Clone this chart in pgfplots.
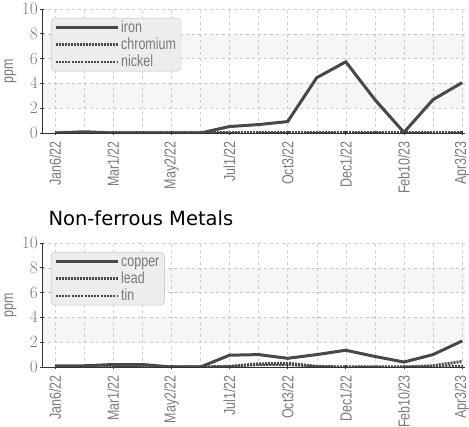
\documentclass[border=0pt]{standalone}
\usepackage{fontspec}
\setmainfont{Liberation Sans}[FakeStretch=0.78]
\newfontfamily\titlefont{DejaVu Sans}
\usepackage{pgfplots}
\pgfplotsset{compat=1.18}

\definecolor{ln}{HTML}{484848}
\definecolor{lbl}{HTML}{7A7A7A}
\definecolor{grd}{HTML}{CFCFCF}

\newcommand{\lblfont}{\fontsize{16}{16}\selectfont}

\pgfplotsset{
  ppm/.style={
    scale only axis, width=423pt, height=124pt,
    xmin=-0.45, xmax=14.1, ymin=0, ymax=10,
    axis x line*=bottom, axis y line*=left,
    axis line style={black!80, line width=0.9pt, -},
    xtick={0,2,...,14}, minor xtick={1,3,...,13},
    ytick={0,2,...,10},
    xticklabels={Jan6/22,Mar1/22,May2/22,Jul1/22,Oct3/22,Dec1/22,Feb10/23,Apr3/23},
    grid=both,
    major grid style={grd, dash pattern=on 3pt off 3pt},
    minor grid style={grd, dash pattern=on 3pt off 3pt},
    tick style={black!80, line width=0.9pt},
    major tick length=4pt, minor tick length=0pt, tick align=center,
    xticklabel style={rotate=90, anchor=east, font=\lblfont, text=lbl,
      inner xsep=6pt, inner ysep=1pt},
    yticklabel style={font=\lblfont, text=lbl, inner sep=2pt},
    ylabel={ppm}, ylabel style={font=\lblfont, text=lbl},
    legend cell align=left,
    legend image code/.code={\draw[##1] (0pt,0pt) -- (62pt,0pt);},
    legend style={at={(rel axis cs:0,1)}, anchor=north west,
      xshift=9pt, yshift=-9pt, draw=black!25, fill=black!7,
      rounded corners=4pt, font=\lblfont, text=lbl,
      inner xsep=3pt, inner ysep=2pt, row sep=2pt,
      nodes={inner xsep=2pt, inner ysep=1pt, text height=11pt, text depth=2pt}},
  },
  s1/.style={ln, line width=3pt},
  s2/.style={ln, line width=3pt, dash pattern=on 2pt off 1pt},
  s3/.style={ln, line width=2pt, dash pattern=on 2pt off 1.2pt},
}

\begin{document}
\begin{tikzpicture}
\useasboundingbox (-42pt,-294pt) rectangle (427pt,133pt);
\begin{axis}[ppm]
\fill[black, fill opacity=0.035] (axis cs:-0.45,2) rectangle (axis cs:14.1,4);
\fill[black, fill opacity=0.035] (axis cs:-0.45,6) rectangle (axis cs:14.1,8);
\addplot[s1] coordinates {
  (0,0) (1,0.1) (2,0) (3,0) (4,0) (5,0) (6,0.52) (7,0.68) (8,0.92)
  (9,4.46) (10,5.74) (11,2.69) (12,0.05) (13,2.69) (14,4.06)};
\addplot[s2] coordinates {
  (0,0) (1,0) (2,0) (3,0) (4,0) (5,0) (6,0) (7,0) (8,0)
  (9,0) (10,0) (11,0) (12,0) (13,0) (14,0)};
\addplot[s3] coordinates {
  (0,0) (1,0) (2,0) (3,0) (4,0) (5,0) (6,0) (7,0) (8,0)
  (9,0) (10,0) (11,0) (12,0) (13,0) (14,0)};
\legend{iron,chromium,nickel}
\end{axis}

\node[anchor=base west, font=\titlefont\fontsize{19.5}{19.5}\selectfont] at (3pt,-93pt) {Non-ferrous Metals};

\begin{axis}[ppm, at={(0,-234pt)}]
\fill[black, fill opacity=0.035] (axis cs:-0.45,2) rectangle (axis cs:14.1,4);
\fill[black, fill opacity=0.035] (axis cs:-0.45,6) rectangle (axis cs:14.1,8);
\addplot[s1] coordinates {
  (0,0.1) (1,0.1) (2,0.2) (3,0.2) (4,0) (5,0) (6,0.95) (7,1.0) (8,0.7)
  (9,1.0) (10,1.35) (11,0.85) (12,0.4) (13,1.0) (14,2.1)};
\addplot[s2] coordinates {
  (0,0) (1,0) (2,0) (3,0) (4,0) (5,0) (6,0.05) (7,0.25) (8,0.3)
  (9,0.05) (10,0) (11,0) (12,0) (13,0.1) (14,0.45)};
\addplot[s3] coordinates {
  (0,0.05) (1,0.05) (2,0.05) (3,0.05) (4,0) (5,0) (6,0.05) (7,0.15) (8,0.15)
  (9,0.05) (10,0) (11,0) (12,0) (13,0.05) (14,0.1)};
\legend{copper,lead,tin}
\end{axis}
\end{tikzpicture}
\end{document}
